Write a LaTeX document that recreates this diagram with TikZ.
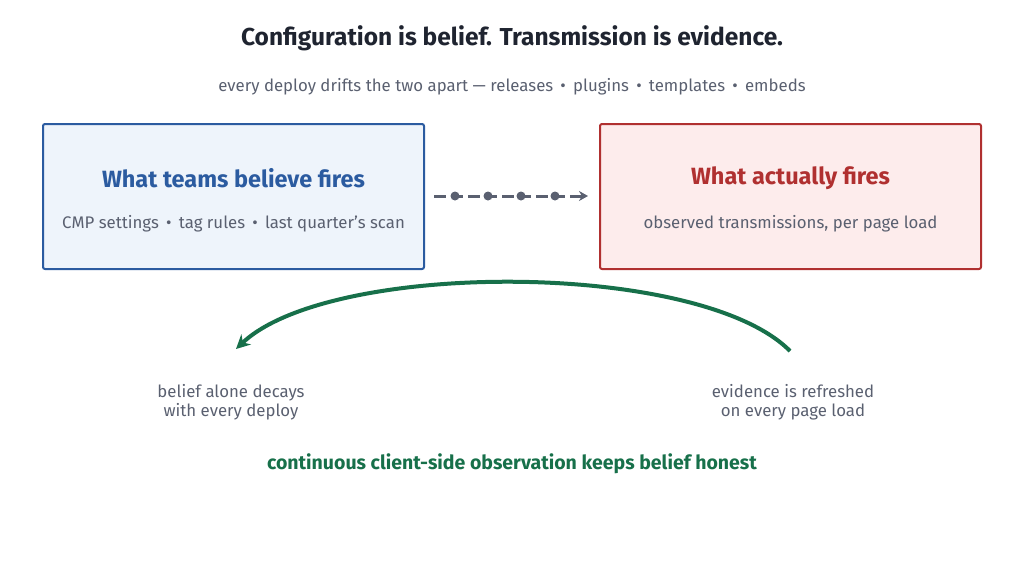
\documentclass[tikz,border=0pt]{standalone}
\usepackage{fontspec}
\setmainfont{Fira Sans}
\usetikzlibrary{arrows.meta}
\definecolor{ink}{HTML}{1F2430}
\definecolor{gray1}{HTML}{5A6070}
\definecolor{blueb}{HTML}{2B5BA0}
\definecolor{bluef}{HTML}{EEF4FB}
\definecolor{redb}{HTML}{B03030}
\definecolor{redf}{HTML}{FDECEC}
\definecolor{grn}{HTML}{17704A}
\definecolor{conn}{HTML}{5A6070}
\begin{document}
\begin{tikzpicture}[x=1pt,y=-1pt,
  box/.style={draw,line width=2pt,rounded corners=2pt,minimum width=381pt,minimum height=145pt},
  sub/.style={text=gray1,font=\fontsize{16.8}{19}\selectfont},
  head/.style={font=\fontsize{23.5}{26}\selectfont\bfseries}]
\useasboundingbox (0,0) rectangle (1024,573);
\node[text=ink,font=\fontsize{24.5}{28}\selectfont\bfseries] (title) at (512,38) {Configuration is belief. Transmission is evidence.};
\node[sub] (subt) at (512,87) {every deploy drifts the two apart — releases \,•\, plugins \,•\, templates \,•\, embeds};
\node[box,draw=blueb,fill=bluef] (L) at (233.5,196.5) {};
\node[box,draw=redb,fill=redf] (R) at (790.5,196.5) {};
\node[head,text=blueb] (Lh) at (233.5,178) {What teams believe fires};
\node[sub] (Ls) at (233.5,224) {CMP settings \,•\, tag rules \,•\, last quarter's scan};
\node[head,text=redb] (Rh) at (790.5,178) {What actually fires};
\node[sub] (Rs) at (790.5,224) {observed transmissions, per page load};
\coordinate (c1) at (434,196);
\coordinate (c2) at (588,196);
\draw[conn,line width=3pt,dash pattern=on 12pt off 5pt,-{Stealth[length=9pt,width=10pt]}] (c1) -- (c2);
\foreach \x in {455,488,521,555} \fill[conn] (\x,196) circle (4.5pt);
\coordinate (a1) at (790,351);
\coordinate (a2) at (236,349);
\draw[grn,line width=4pt,-{Stealth[length=14pt,width=14pt]}] (a1) .. controls (700,260) and (330,260) .. (a2);
\node[sub,align=center] (bl) at (231,402) {belief alone decays\\with every deploy};
\node[sub,align=center] (br) at (793,402) {evidence is refreshed\\on every page load};
\node[text=grn,font=\fontsize{19.5}{22}\selectfont\bfseries] (ft) at (512,464) {continuous client-side observation keeps belief honest};
\end{tikzpicture}
\end{document}
